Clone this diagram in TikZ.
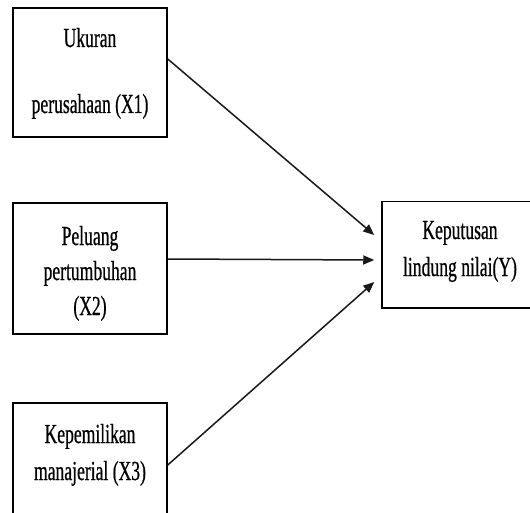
\documentclass[tikz,border=0pt]{standalone}
\usepackage{fontspec}
\setmainfont{Liberation Serif}[FakeStretch=0.64,FakeBold=0.6]
\usetikzlibrary{calc,arrows.meta}
\begin{document}
\begin{tikzpicture}[x=1pt,y=-1pt,
  box/.style={draw=black,line width=1.5pt,inner sep=0pt,fill=none},
  txt/.style={anchor=base,inner sep=0pt,font=\fontsize{27.5pt}{33pt}\selectfont},
  arr/.style={draw=black!90,line width=1.5pt,-{Triangle[length=11pt,width=9pt]}}]
\useasboundingbox (0,0) rectangle (530,513);
\clip (0,0) rectangle (530,513);
\fill[white] (0,0) rectangle (530,513);
% boxes
\node[box,minimum width=154pt,minimum height=129pt] (b1) at (90,72.5) {};
\node[box,minimum width=154pt,minimum height=131pt] (b2) at (90,268.5) {};
\node[box,minimum width=154pt,minimum height=127pt] (b3) at (90,466.5) {};
\node[box,minimum width=156pt,minimum height=106.5pt] (y) at (460,254.75) {};
% texts
\node[txt] (t1a) at (90,47) {Ukuran};
\node[txt] (t1b) at (90,113) {perusahaan (X1)};
\node[txt] (t2a) at (90,245) {Peluang};
\node[txt] (t2b) at (90,280) {pertumbuhan};
\node[txt] (t2c) at (90,315) {(X2)};
\node[txt] (t3a) at (90,443) {Kepemilikan};
\node[txt] (t3b) at (90,480) {manajerial (X3)};
\node[txt] (tya) at (460,239) {Keputusan};
\node[txt] (tyb) at (460,276) {lindung nilai(Y)};
% arrows
\draw[arr] ($(b1.east)+(0,-13.5)$) -- ($(y.west)+(-7,-19.75)$);
\draw[arr] ($(b2.east)+(0,-9.5)$) -- ($(y.west)+(-7,5.25)$);
\draw[arr] ($(b3.east)+(0,-1.5)$) -- ($(y.west)+(-7,27.25)$);
\end{tikzpicture}
\end{document}
